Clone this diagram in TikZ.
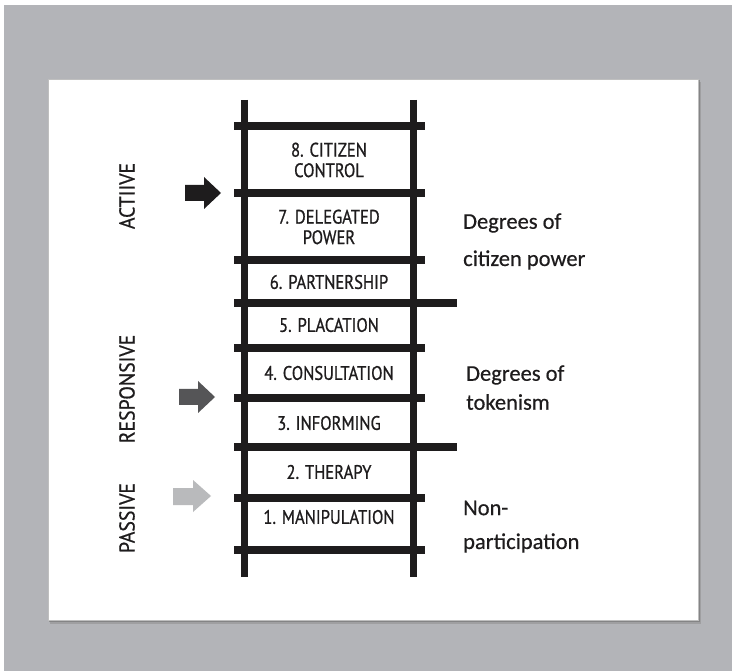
\documentclass[tikz,border=0pt]{standalone}
\usepackage{fontspec}
\setmainfont{PT Sans}
\newfontfamily\ladderfont[FakeStretch=0.85,FakeBold=0.8]{PT Sans}
\newfontfamily\sidefont[FakeStretch=0.92,FakeBold=0.7]{PT Sans}
\newfontfamily\notefont[FakeBold=0.5]{Carlito}
\definecolor{bggray}{HTML}{B3B4B8}
\definecolor{ink}{HTML}{1E1C1D}
\definecolor{midarrow}{HTML}{555557}
\definecolor{lightarrow}{HTML}{B9BABC}
\begin{document}
\begin{tikzpicture}[x=1pt,y=-1pt,
  rail/.style={line width=7pt,draw=ink},
  rung/.style={line width=7.5pt,draw=ink},
  rungtext/.style={font=\ladderfont\fontsize{19.5}{21.5}\selectfont,text=ink,align=center,inner sep=0pt},
  sidelabel/.style={font=\sidefont\fontsize{21.5}{24}\selectfont,text=ink,rotate=90,inner sep=0pt},
  note/.style={font=\notefont\fontsize{22.5}{26}\selectfont,text=ink,anchor=west,inner sep=0pt}]
\useasboundingbox (0,0) rectangle (732,671);
\fill[white] (0,0) rectangle (732,671);
\fill[bggray] (4,5) rectangle (732,671);
% card shadow
\fill[black!45,opacity=0.5] (50,82) rectangle (701,624);
\fill[black!55,opacity=0.6] (49,80) rectangle (699.5,622);
\fill[white,draw=black!25,line width=0.6pt] (48,79) rectangle (698,620);
% rails
\draw[rail] (244.5,100) -- (244.5,577);
\draw[rail] (413,100) -- (413,577);
% rungs
\foreach \y in {126,193,260,348,398,498,550}
  \draw[rung] (234,\y) -- (425,\y);
\foreach \y in {303,447}
  \draw[rung] (234,\y) -- (457,\y);
% rung labels
\node[rungtext] (l8) at (329,160) {8. CITIZEN\\[-1pt]CONTROL};
\node[rungtext] (l7) at (329,227) {7. DELEGATED\\[-1pt]POWER};
\node[rungtext] (l6) at (329,282) {6. PARTNERSHIP};
\node[rungtext] (l5) at (329,325) {5. PLACATION};
\node[rungtext] (l4) at (329,373) {4. CONSULTATION};
\node[rungtext] (l3) at (329,423) {3. INFORMING};
\node[rungtext] (l2) at (329,472) {2. THERAPY};
\node[rungtext] (l1) at (329,517) {1. MANIPULATION};
% side labels
\node[sidelabel] (active) at (127,196) {ACTIIVE};
\node[sidelabel] (responsive) at (127,389) {RESPONSIVE};
\node[sidelabel] (passive) at (127,518) {PASSIVE};
% arrows
\fill[ink] (185,185) -- (204,185) -- (204,177) -- (221,193) -- (204,209) -- (204,201) -- (185,201) -- cycle;
\fill[midarrow] (179,389) -- (198,389) -- (198,381) -- (215,397) -- (198,413) -- (198,405) -- (179,405) -- cycle;
\fill[lightarrow] (173,488) -- (193,488) -- (193,480) -- (211,496) -- (193,512) -- (193,505) -- (173,505) -- cycle;
% notes
\node[note] (n1a) at (463,223) {Degrees of};
\node[note] (n1b) at (463,260) {citizen power};
\node[note] (n2a) at (466,375) {Degrees of};
\node[note] (n2b) at (466,402) {tokenism};
\node[note] (n3a) at (463,508) {Non-};
\node[note] (n3b) at (463,543) {participation};
\end{tikzpicture}
\end{document}
